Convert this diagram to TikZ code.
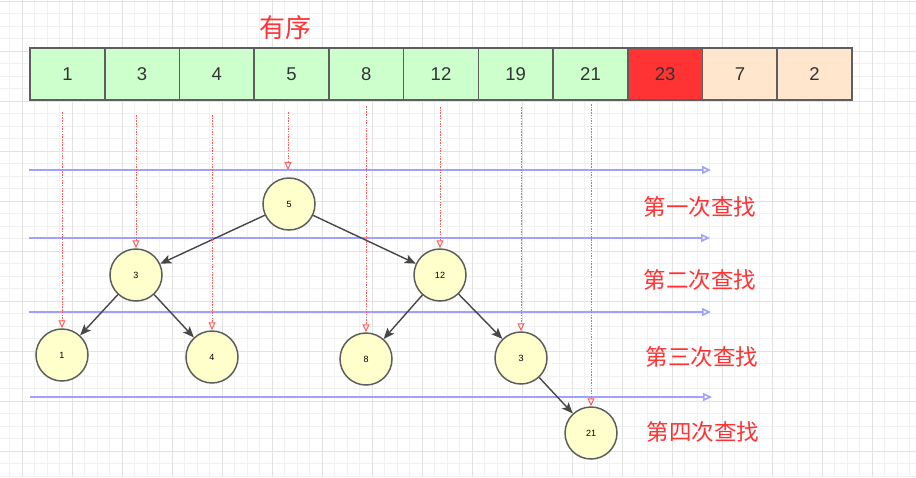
\documentclass[tikz,border=0pt]{standalone}
\usepackage{fontspec}
\setmainfont{Liberation Sans}
\newfontfamily\cjk{Noto Sans CJK SC}
\usetikzlibrary{arrows.meta}
\definecolor{cellgreen}{HTML}{CCFFCC}
\definecolor{cellred}{HTML}{FF3333}
\definecolor{cellpeach}{HTML}{FFE6CC}
\definecolor{nodeyellow}{HTML}{FFFFCC}
\definecolor{edgegray}{HTML}{5E5E5E}
\definecolor{tagred}{HTML}{FF3333}
\definecolor{probered}{HTML}{FF5C5C}
\definecolor{levelblue}{HTML}{A0A0FF}
\definecolor{gridminor}{HTML}{F1F1F1}
\definecolor{gridmajor}{HTML}{E2E2E2}
\tikzset{
  cellbox/.style={draw=edgegray, line width=1.6pt, fill=cellgreen, minimum width=74.7pt, minimum height=52pt, inner sep=0pt, outer sep=0pt, text=black!80, font=\fontsize{18.5}{20}\selectfont},
  cellbox2/.style={cellbox, fill=cellred},
  cellbox3/.style={cellbox, fill=cellpeach},
  treenode/.style={circle, draw=edgegray, line width=1.5pt, fill=nodeyellow, minimum size=52pt, inner sep=0pt, font=\fontsize{9}{10}\selectfont},
  treearrow/.style={-{Stealth[length=11pt, width=9pt, inset=2.5pt]}, draw=black!72, line width=1.4pt},
  probearrow/.style={-{Triangle[open, length=8pt, width=7pt]}, draw=probered, dash pattern=on 1.5pt off 1.2pt, line width=1pt},
  levelline/.style={-{Triangle[open, length=9pt, width=8pt]}, draw=levelblue, line width=1.6pt},
  tag/.style={text=tagred, font=\cjk\fontsize{22.5}{26}\selectfont}
}
\begin{document}
\begin{tikzpicture}[x=1pt, y=-1pt]
  \useasboundingbox (0,0) rectangle (916,477);
  \fill[white] (0,0) rectangle (916,477);
  % background grid
  \foreach \gx in {9.5,22,...,915} \draw[gridminor, line width=0.8pt] (\gx,0) -- (\gx,477);
  \foreach \gy in {1,13.5,...,477} \draw[gridminor, line width=0.8pt] (0,\gy) -- (916,\gy);
  \foreach \gx in {22,72,...,915} \draw[gridmajor, line width=1pt] (\gx,0) -- (\gx,477);
  \foreach \gy in {1,51,...,477} \draw[gridmajor, line width=1pt] (0,\gy) -- (916,\gy);

  % array
  \node[tag, font=\cjk\fontsize{26}{30}\selectfont] (title) at (285,28) {有序};
  \node[cellbox] (c1) at (67.4,74) {1};
  \node[cellbox] (c2) at (142.1,74) {3};
  \node[cellbox] (c3) at (216.8,74) {4};
  \node[cellbox] (c4) at (291.6,74) {5};
  \node[cellbox] (c5) at (366.3,74) {8};
  \node[cellbox] (c6) at (441.0,74) {12};
  \node[cellbox] (c7) at (515.7,74) {19};
  \node[cellbox] (c8) at (590.5,74) {21};
  \node[cellbox2] (c9) at (665.2,74) {23};
  \node[cellbox3] (c10) at (739.9,74) {7};
  \node[cellbox3] (c11) at (814.6,74) {2};

  % level lines
  \coordinate (lv1a) at (29,170); \coordinate (lv1b) at (711,170);
  \coordinate (lv2a) at (29,238); \coordinate (lv2b) at (710,238);
  \coordinate (lv3a) at (29,312); \coordinate (lv3b) at (711,312);
  \coordinate (lv4a) at (30,397); \coordinate (lv4b) at (712,397);
  \draw[levelline] (lv1a) -- (lv1b);
  \draw[levelline] (lv2a) -- (lv2b);
  \draw[levelline] (lv3a) -- (lv3b);
  \draw[levelline] (lv4a) -- (lv4b);

  % tree
  \node[treenode] (n5) at (289,204) {5};
  \node[treenode] (n3) at (136,275) {3};
  \node[treenode] (n12) at (440,275) {12};
  \node[treenode] (n1) at (62,355) {1};
  \node[treenode] (n4) at (212,357) {4};
  \node[treenode] (n8) at (366,359) {8};
  \node[treenode] (n3b) at (521,358) {3};
  \node[treenode] (n21) at (591,433) {21};
  \draw[treearrow] (n5) -- (n3);
  \draw[treearrow] (n5) -- (n12);
  \draw[treearrow] (n3) -- (n1);
  \draw[treearrow] (n3) -- (n4);
  \draw[treearrow] (n12) -- (n8);
  \draw[treearrow] (n12) -- (n3b);
  \draw[treearrow] (n3b) -- (n21);

  % probes from the array
  \coordinate (pr1) at (62,112);
  \coordinate (pr2) at (136,115);
  \coordinate (pr3) at (212,115);
  \coordinate (pr4) at (288,112);
  \coordinate (pr4e) at (288,170);
  \coordinate (pr5) at (366,106);
  \coordinate (pr6) at (440,107);
  \coordinate (pr7) at (521,107);
  \coordinate (pr8) at (591,104);
  \draw[probearrow] (pr1) -- (n1.north);
  \draw[probearrow] (pr2) -- (n3.north);
  \draw[probearrow] (pr3) -- (n4.north);
  \draw[probearrow] (pr4) -- (pr4e);
  \draw[probearrow] (pr5) -- (n8.north);
  \draw[probearrow] (pr6) -- (n12.north);
  \draw[probearrow] (pr7) -- (n3b.north);
  \draw[probearrow] (pr8) -- (n21.north);

  % step labels
  \node[tag] (t1) at (700,207) {第一次查找};
  \node[tag] (t2) at (700,280) {第二次查找};
  \node[tag] (t3) at (702,357) {第三次查找};
  \node[tag] (t4) at (703,432) {第四次查找};
\end{tikzpicture}
\end{document}
